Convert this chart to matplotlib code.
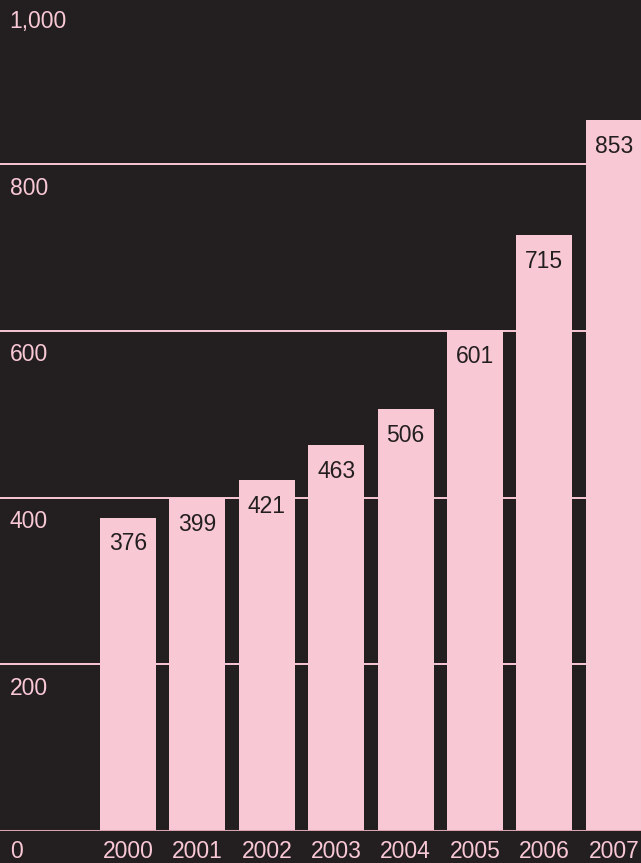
import matplotlib
matplotlib.use("Agg")
import matplotlib.pyplot as plt

years = ["2000", "2001", "2002", "2003", "2004", "2005", "2006", "2007"]
values = [376, 399, 421, 463, 506, 601, 715, 853]
grid_values = [200, 400, 600, 800]
tick_values = [0, 200, 400, 600, 800, 1000]
tick_labels = ["0", "200", "400", "600", "800", "1,000"]

BG = "#231f20"
PINK = "#f9c8d5"
plt.rcParams["font.family"] = ["Liberation Sans", "DejaVu Sans"]

W, H = 641, 863
fig = plt.figure(figsize=(W / 100, H / 100), dpi=100, facecolor=BG)
base_px = 831
ax = fig.add_axes([0, (H - base_px) / H, 1, base_px / H])
ax.set_facecolor(BG)
for s in ax.spines.values():
    s.set_visible(False)
ax.set_xticks([])
ax.set_yticks([])

spacing_px = 69.4
first_center_px = 128
ax.set_xlim(-first_center_px / spacing_px, (W - first_center_px) / spacing_px)
ax.set_ylim(0, 997)

# horizontal rules behind the bars
for g in grid_values:
    ax.axhline(g, color=PINK, lw=1.4, zorder=1)
ax.axhline(0, color="#d9a3b0", lw=2.2, zorder=3)

xs = list(range(len(years)))
ax.bar(xs, values, width=0.807, color=PINK, zorder=2, linewidth=0)

fs = 16.5
for x, v in zip(xs, values):
    ax.annotate(str(v), (x, v), xytext=(0, -10.5), textcoords="offset points",
                ha="center", va="top", fontsize=fs, color=BG, zorder=4)

# value axis labels sit just under each rule, at the left edge
for t, lab in zip(tick_values[1:], tick_labels[1:]):
    ax.annotate(lab, (0, t), xycoords=("axes fraction", "data"),
                xytext=(7, -9), textcoords="offset points",
                ha="left", va="top", fontsize=fs, color=PINK)

# bottom row: zero label and year labels (baseline near the lower edge)
fig.text(10 / W, 1 - 858 / H, tick_labels[0], ha="left", va="baseline",
         fontsize=fs, color=PINK)
for x, y in zip(xs, years):
    ax.annotate(y, (x, 0), xytext=(0, -(858 - base_px) * 0.72),
                textcoords="offset points", ha="center", va="baseline",
                fontsize=fs, color=PINK, annotation_clip=False)

fig.savefig("out.png", dpi=100, facecolor=BG)
